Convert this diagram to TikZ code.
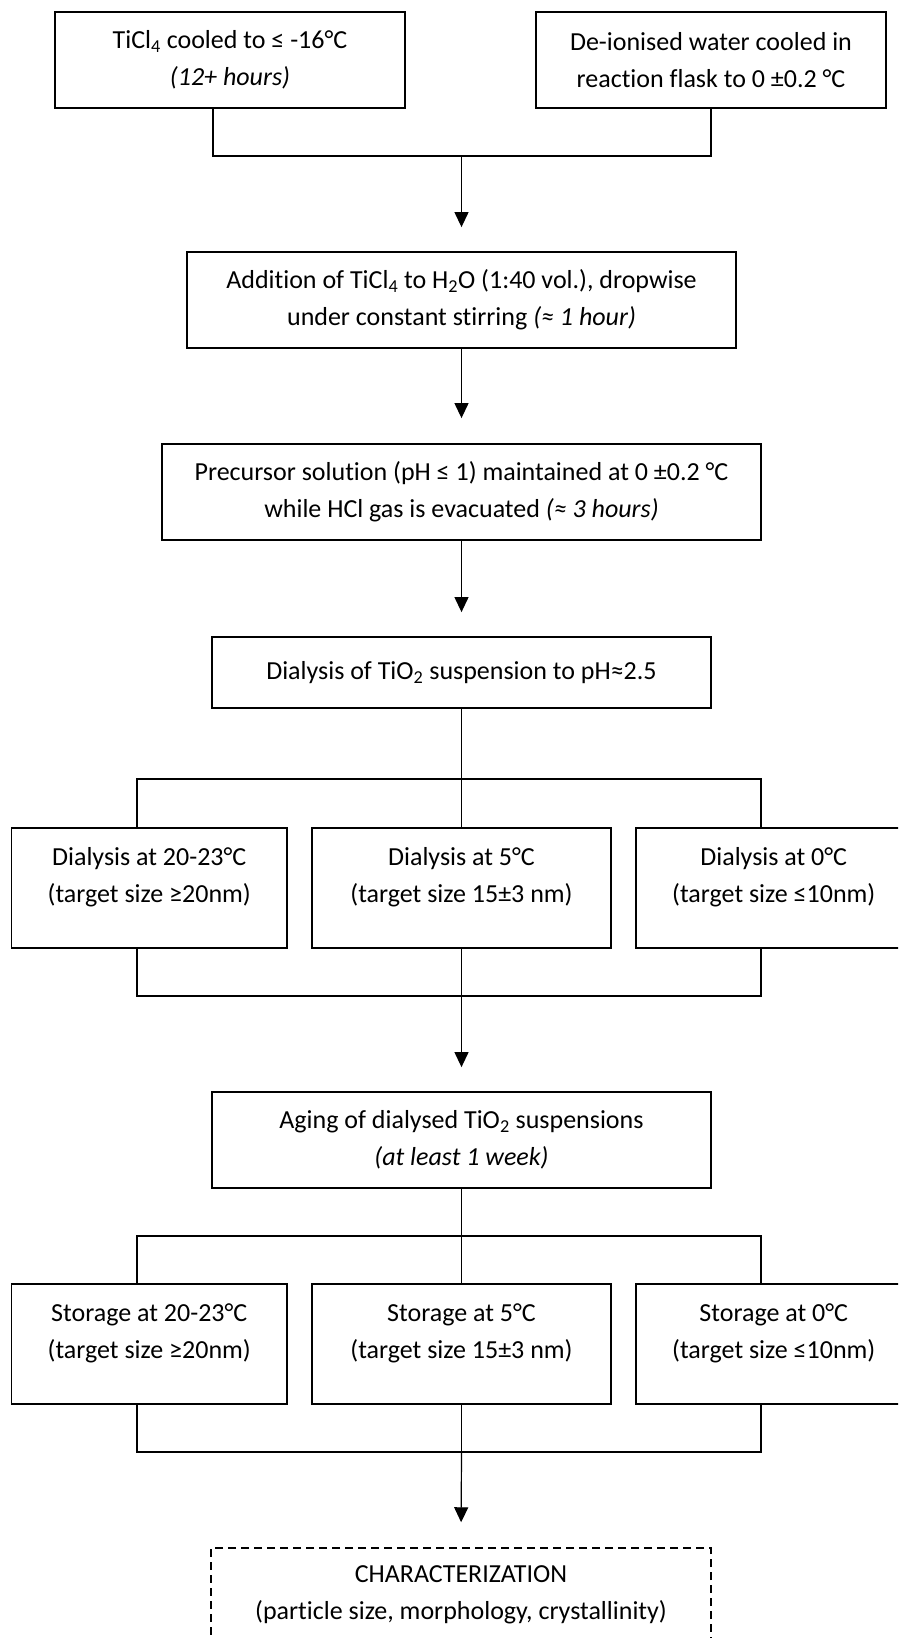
\documentclass[tikz,border=0pt]{standalone}
\usepackage{fontspec}
\setmainfont{Carlito}[Ligatures={NoCommon}]
\usetikzlibrary{arrows.meta,calc}
\begin{document}
\begin{tikzpicture}[x=1pt,y=-1pt,
  box/.style={draw, line width=1.8pt, inner sep=0pt, anchor=center},
  dbox/.style={box, dash pattern=on 8pt off 5pt, line width=1.5pt},
  txt/.style={align=center, font=\fontsize{26}{37}\selectfont, inner sep=0pt},
  conn/.style={line width=1.2pt},
  arr/.style={conn, -{Triangle[length=15pt,width=14pt]}}]
\clip (0,0) rectangle (898,1638);
\fill[white] (0,0) rectangle (898,1638);

% boxes
\node[box, minimum width=350pt, minimum height=96pt] (b1) at (230,60) {};
\node[box, minimum width=350pt, minimum height=96pt] (b2) at (711,60) {};
\node[box, minimum width=549pt, minimum height=96pt] (b3) at (461.5,300) {};
\node[box, minimum width=599pt, minimum height=96pt] (b4) at (461.5,492) {};
\node[box, minimum width=499pt, minimum height=71pt] (b5) at (461.5,672.5) {};
\node[box, minimum width=275.5pt, minimum height=120pt] (dL) at (149.25,888) {};
\node[box, minimum width=299pt, minimum height=120pt] (dM) at (461.5,888) {};
\node[box, minimum width=275.5pt, minimum height=120pt] (dR) at (773.75,888) {};
\node[box, minimum width=499pt, minimum height=96pt] (ag) at (461.5,1140) {};
\node[box, minimum width=275.5pt, minimum height=120pt] (sL) at (149.25,1344) {};
\node[box, minimum width=299pt, minimum height=120pt] (sM) at (461.5,1344) {};
\node[box, minimum width=275.5pt, minimum height=120pt] (sR) at (773.75,1344) {};
\node[dbox, minimum width=500pt, minimum height=130pt] (ch) at (461,1613) {};

% texts
\node[txt] (t1) at (b1) {TiCl\textsubscript{4} cooled to ≤ -16°C\\\textit{(12+ hours)}};
\node[txt] (t2) at (b2) {De-ionised water cooled in\\reaction flask to 0 ±0.2 °C};
\node[txt] (t3) at (b3) {Addition of TiCl\textsubscript{4} to H\textsubscript{2}O (1:40 vol.), dropwise\\under constant stirring \textit{(≈ 1 hour)}};
\node[txt] (t4) at (b4) {Precursor solution (pH ≤ 1) maintained at 0 ±0.2 °C\\while HCl gas is evacuated \textit{(≈ 3 hours)}};
\node[txt] (t5) at (b5) {Dialysis of TiO\textsubscript{2} suspension to pH≈2.5};
\node[txt, yshift=10.5pt] (tdL) at (dL) {Dialysis at 20-23°C\\(target size ≥20nm)};
\node[txt, yshift=10.5pt] (tdM) at (dM) {Dialysis at 5°C\\(target size 15±3 nm)};
\node[txt, yshift=10.5pt] (tdR) at (dR) {Dialysis at 0°C\\(target size ≤10nm)};
\node[txt] (tag) at (ag) {Aging of dialysed TiO\textsubscript{2} suspensions\\\textit{(at least 1 week)}};
\node[txt, yshift=10.5pt] (tsL) at (sL) {Storage at 20-23°C\\(target size ≥20nm)};
\node[txt, yshift=10.5pt] (tsM) at (sM) {Storage at 5°C\\(target size 15±3 nm)};
\node[txt, yshift=10.5pt] (tsR) at (sR) {Storage at 0°C\\(target size ≤10nm)};
\node[txt] (tch) at (461,1594.5) {CHARACTERIZATION\\(particle size, morphology, crystallinity)};

% junctions
\coordinate (j1l) at (213,156);
\coordinate (j1r) at (711,156);
\coordinate (j1) at (461.5,156);
\coordinate (j2l) at (137,779);
\coordinate (j2r) at (761,779);
\coordinate (j2) at (461.5,779);
\coordinate (j3l) at (137,996);
\coordinate (j3r) at (761,996);
\coordinate (j3) at (461.5,996);
\coordinate (j4l) at (137,1236);
\coordinate (j4r) at (761,1236);
\coordinate (j4) at (461.5,1236);
\coordinate (j5l) at (137,1452);
\coordinate (j5r) at (761,1452);
\coordinate (j5) at (461.5,1452);

% connectors
\draw[conn] (b1.south -| j1l) -- (j1l) -- (j1r) -- (b2.south -| j1r);
\draw[arr, shorten >=24pt] (j1) -- (b3.north);
\draw[arr, shorten >=25pt] (b3.south) -- (b4.north);
\draw[arr, shorten >=24pt] (b4.south) -- (b5.north);
\draw[conn] (b5.south) -- (j2);
\draw[conn] (dL.north -| j2l) -- (j2l) -- (j2r) -- (dR.north -| j2r);
\draw[conn] (j2) -- (dM.north);
\draw[conn] (dL.south -| j3l) -- (j3l) -- (j3r) -- (dR.south -| j3r);
\draw[conn] (dM.south) -- (j3);
\draw[arr, shorten >=24pt] (j3) -- (ag.north);
\draw[conn] (ag.south) -- (j4);
\draw[conn] (sL.north -| j4l) -- (j4l) -- (j4r) -- (sR.north -| j4r);
\draw[conn] (j4) -- (sM.north);
\draw[conn] (sL.south -| j5l) -- (j5l) -- (j5r) -- (sR.south -| j5r);
\draw[conn] (sM.south) -- (j5);
\draw[arr, shorten >=25pt] (j5) -- (ch.north);
\end{tikzpicture}
\end{document}
